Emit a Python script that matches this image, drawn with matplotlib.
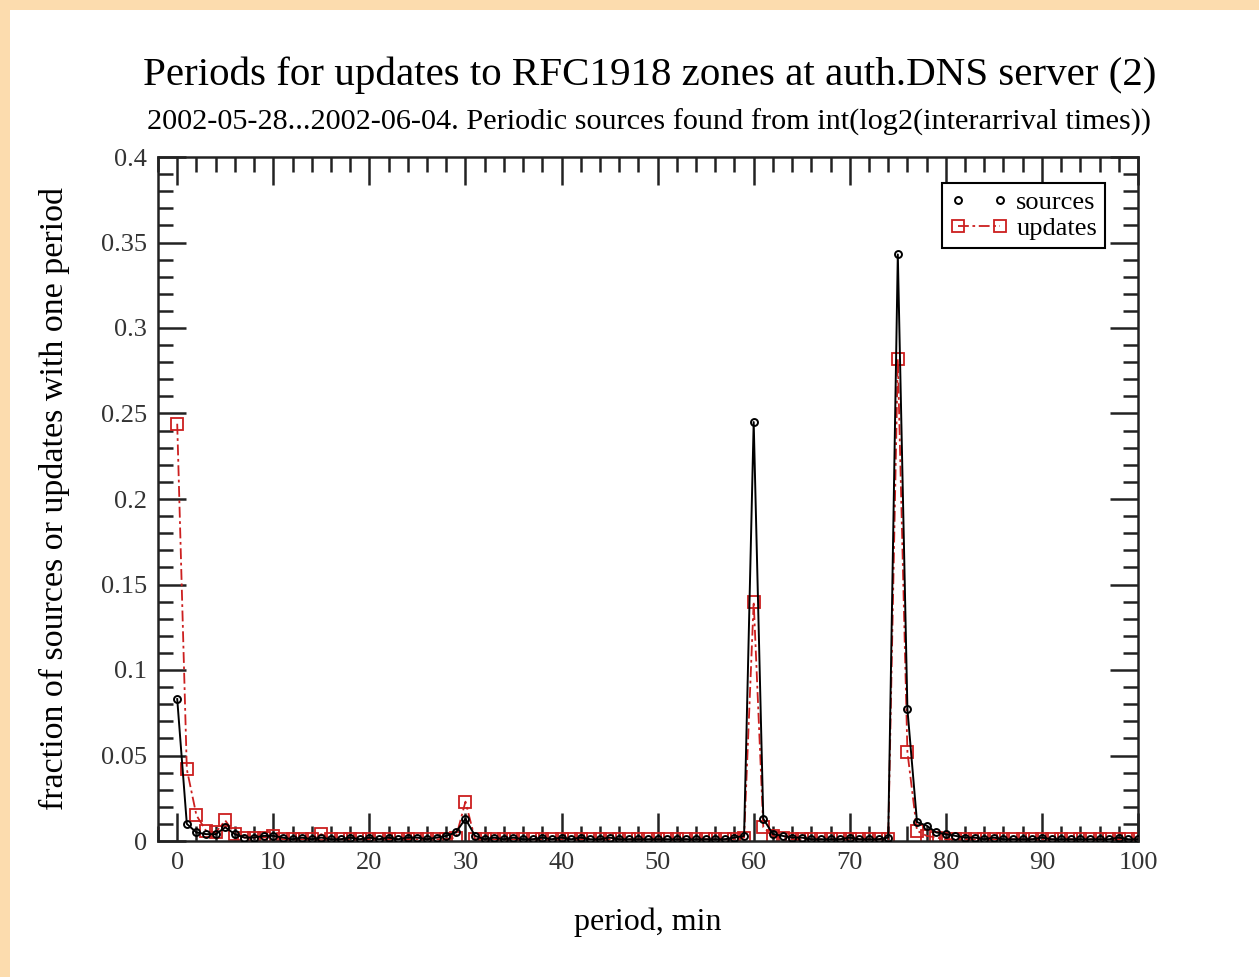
import matplotlib
matplotlib.use("Agg")
import matplotlib.pyplot as plt
from matplotlib.patches import Rectangle
from matplotlib.ticker import MultipleLocator
import numpy as np

period = list(range(0, 101))

sources = [
    0.083, 0.010, 0.005, 0.004, 0.004, 0.008, 0.004, 0.002, 0.002, 0.003,
    0.003, 0.002, 0.001, 0.002, 0.001, 0.002, 0.001, 0.001, 0.002, 0.001,
    0.002, 0.001, 0.002, 0.001, 0.002, 0.002, 0.001, 0.002, 0.003, 0.005,
    0.013, 0.003, 0.001, 0.002, 0.001, 0.002, 0.001, 0.001, 0.002, 0.001,
    0.002, 0.001, 0.002, 0.001, 0.001, 0.002, 0.001, 0.001, 0.001, 0.001,
    0.001, 0.001, 0.001, 0.001, 0.001, 0.001, 0.001, 0.001, 0.002, 0.003,
    0.245, 0.013, 0.004, 0.003, 0.002, 0.002, 0.001, 0.001, 0.001, 0.001,
    0.002, 0.001, 0.001, 0.001, 0.002, 0.343, 0.077, 0.011, 0.009, 0.005,
    0.004, 0.003, 0.002, 0.002, 0.001, 0.002, 0.001, 0.001, 0.001, 0.001,
    0.002, 0.001, 0.001, 0.001, 0.001, 0.001, 0.001, 0.001, 0.002, 0.001,
    0.001,
]

updates = [
    0.244, 0.042, 0.015, 0.006, 0.005, 0.012, 0.004, 0.002, 0.002, 0.002,
    0.003, 0.001, 0.001, 0.001, 0.001, 0.004, 0.001, 0.001, 0.001, 0.001,
    0.001, 0.001, 0.001, 0.001, 0.001, 0.001, 0.001, 0.001, 0.001, 0.002,
    0.023, 0.001, 0.001, 0.001, 0.001, 0.001, 0.001, 0.001, 0.001, 0.001,
    0.001, 0.001, 0.001, 0.001, 0.001, 0.001, 0.001, 0.001, 0.001, 0.001,
    0.001, 0.001, 0.001, 0.001, 0.001, 0.001, 0.001, 0.001, 0.001, 0.002,
    0.140, 0.008, 0.003, 0.002, 0.001, 0.001, 0.001, 0.001, 0.001, 0.001,
    0.001, 0.001, 0.001, 0.001, 0.001, 0.282, 0.052, 0.006, 0.003, 0.002,
    0.001, 0.001, 0.001, 0.001, 0.001, 0.001, 0.001, 0.001, 0.001, 0.001,
    0.001, 0.001, 0.001, 0.001, 0.001, 0.001, 0.001, 0.001, 0.001, 0.001,
    0.001,
]

title = "Periods for updates to RFC1918 zones at auth.DNS server (2)"
subtitle = "2002-05-28...2002-06-04. Periodic sources found from int(log2(interarrival times))"
xlabel = "period, min"
ylabel = "fraction of sources or updates with one period"
series_labels = ["sources", "updates"]

plt.rcParams['font.family'] = ['Liberation Serif', 'DejaVu Serif']

W, H = 1259, 977
fig = plt.figure(figsize=(W / 100, H / 100), dpi=100)
fig.patch.set_facecolor('#FCDCAE')
fig.add_artist(Rectangle((10 / W, 0), 1 - 10 / W, (H - 10) / H,
                         transform=fig.transFigure, facecolor='white',
                         edgecolor='none', zorder=-10))

ax = fig.add_axes([158 / W, (H - 841) / H, (1138 - 158) / W, (841 - 157) / H])
ax.set_zorder(1)
ax.set_facecolor('white')

red = '#CC1F1F'
ax.plot(period, sources, color='black', lw=1.4,
        marker='o', ms=5, mfc='none', mec='black', mew=1.4, label=series_labels[0],
        zorder=3)
ax.plot(period, updates, color=red, lw=1.3,
        linestyle=(0, (6, 2, 1.5, 2)),
        marker='s', ms=9, mfc='none', mec=red, mew=1.3, label=series_labels[1],
        zorder=2)

ax.set_xlim(-2, 100)
ax.set_ylim(0, 0.4)
ax.xaxis.set_major_locator(MultipleLocator(10))
ax.xaxis.set_minor_locator(MultipleLocator(2))
ax.yaxis.set_major_locator(MultipleLocator(0.05))
ax.yaxis.set_minor_locator(MultipleLocator(0.01))

def yfmt(v, pos):
    if abs(v) < 1e-9:
        return "0"
    return ("%.2f" % v).rstrip('0')
ax.yaxis.set_major_formatter(plt.FuncFormatter(yfmt))

ax.tick_params(which='both', direction='in', top=True, right=True,
               labelsize=19, labelcolor='#333333', width=1.8, color='#222222')
ax.tick_params(which='major', length=20, pad=8)
ax.tick_params(which='minor', length=11)
for sp in ax.spines.values():
    sp.set_linewidth(1.8)
    sp.set_color('#222222')

ax.set_xlabel(xlabel, fontsize=23, labelpad=24)
ax.set_ylabel(ylabel, fontsize=24.5, labelpad=22)

fig.text(650 / W, 1 - 75 / H, title, fontsize=29.5, ha='center', va='center')
fig.text(649 / W, 1 - 122 / H, subtitle, fontsize=21.8, ha='center', va='center')

leg = ax.legend(loc='upper right', bbox_to_anchor=((1105 - 158) / 980, (841 - 183) / 684),
                fontsize=19, frameon=True, fancybox=False, framealpha=1,
                edgecolor='black', borderpad=0.3, handlelength=2.2, numpoints=2,
                handletextpad=0.3, labelspacing=0.1, borderaxespad=0)
leg.get_frame().set_linewidth(1.5)
leg.get_lines()[0].set_linestyle('none')

fig.savefig('out.png', dpi=100, facecolor=fig.get_facecolor())
